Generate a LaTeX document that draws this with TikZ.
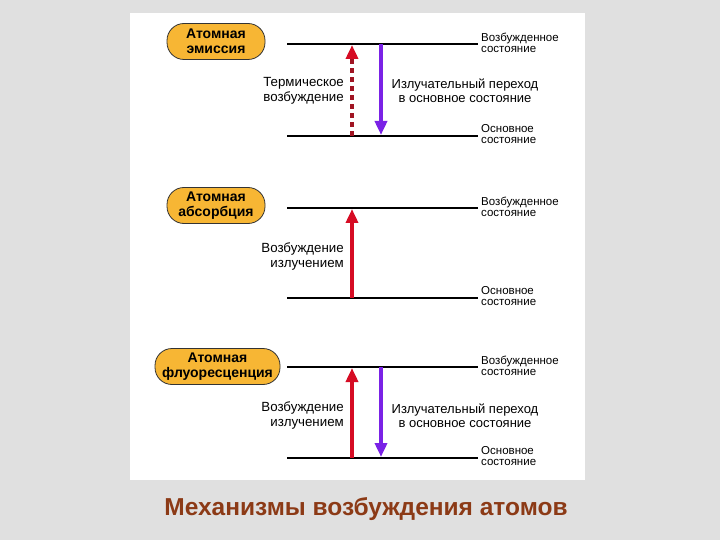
\documentclass[tikz,border=0pt]{standalone}
\usepackage{fontspec}
\setmainfont{Liberation Sans}
\usetikzlibrary{arrows.meta}
\definecolor{bgc}{RGB}{224,224,224}
\definecolor{pillfill}{RGB}{247,182,52}
\definecolor{redarr}{RGB}{214,12,36}
\definecolor{darkred}{RGB}{160,20,34}
\definecolor{purp}{RGB}{122,34,230}
\definecolor{titlec}{RGB}{140,58,22}
\begin{document}
\begin{tikzpicture}[x=1pt,y=-1pt,
  level/.style={line width=2.6pt},
  pill/.style={draw=black!80, line width=0.8pt, fill=pillfill, rounded corners=17pt,
    minimum height=36pt, align=center, inner sep=0pt,
    font=\fontsize{14}{14.5}\selectfont\bfseries},
  leftlab/.style={anchor=east, align=right, inner sep=0pt, font=\fontsize{13.3}{15}\selectfont},
  midlab/.style={anchor=center, align=center, inner sep=0pt, font=\fontsize{13}{14}\selectfont},
  statelab/.style={anchor=west, align=left, inner sep=0pt, font=\fontsize{11.5}{11}\selectfont},
  uparrow/.style={line width=4pt, redarr, -{Triangle[width=12pt,length=14pt]}},
  dasharrow/.style={line width=4pt, darkred, dash pattern=on 5pt off 4pt,
    -{Triangle[width=12pt,length=14pt,color=redarr,fill=redarr]}},
  downarrow/.style={line width=4pt, purp, -{Triangle[width=12pt,length=14pt]}}
]
\useasboundingbox (0,0) rectangle (720,540);
\fill[bgc] (0,0) rectangle (720,540);
\fill[white] (130,13) rectangle (585,480);

% ---------- Panel 1: emission ----------
\node[pill, minimum width=98pt] (p1) at (216,41.5) {Атомная\\эмиссия};
\coordinate (e1l) at (287,44); \coordinate (e1r) at (478,44);
\coordinate (g1l) at (287,136); \coordinate (g1r) at (478,136);
\draw[level] (e1l) -- (e1r);
\draw[level] (g1l) -- (g1r);
\coordinate (e1a) at (352,45); \coordinate (g1a) at (352,136);
\coordinate (e1b) at (381,44); \coordinate (g1b) at (381,135);
\draw[dasharrow] (g1a) -- (e1a);
\draw[downarrow] (e1b) -- (g1b);
\node[leftlab] (t1) at (344,90.5) {Термическое\\возбуждение};
\node[midlab] (m1) at (465,91) {Излучательный переход\\в основное состояние};
\node[statelab] (s1e) at (481,43) {Возбужденное\\состояние};
\node[statelab] (s1g) at (481,134) {Основное\\состояние};

% ---------- Panel 2: absorption ----------
\node[pill, minimum width=98pt] (p2) at (216,205.5) {Атомная\\абсорбция};
\coordinate (e2l) at (287,208); \coordinate (e2r) at (478,208);
\coordinate (g2l) at (287,298); \coordinate (g2r) at (478,298);
\draw[level] (e2l) -- (e2r);
\draw[level] (g2l) -- (g2r);
\coordinate (e2a) at (352,209); \coordinate (g2a) at (352,298);
\draw[uparrow] (g2a) -- (e2a);
\node[leftlab] (t2) at (344,257) {Возбуждение\\излучением};
\node[statelab] (s2e) at (481,207) {Возбужденное\\состояние};
\node[statelab] (s2g) at (481,296) {Основное\\состояние};

% ---------- Panel 3: fluorescence ----------
\node[pill, minimum width=125pt] (p3) at (217.5,366.5) {Атомная\\флуоресценция};
\coordinate (e3l) at (287,367); \coordinate (e3r) at (478,367);
\coordinate (g3l) at (287,458); \coordinate (g3r) at (478,458);
\draw[level] (e3l) -- (e3r);
\draw[level] (g3l) -- (g3r);
\coordinate (e3a) at (352,368); \coordinate (g3a) at (352,458);
\coordinate (e3b) at (381,367); \coordinate (g3b) at (381,457);
\draw[uparrow] (g3a) -- (e3a);
\draw[downarrow] (e3b) -- (g3b);
\node[leftlab] (t3) at (344,415.5) {Возбуждение\\излучением};
\node[midlab] (m3) at (465,415.5) {Излучательный переход\\в основное состояние};
\node[statelab] (s3e) at (481,366) {Возбужденное\\состояние};
\node[statelab] (s3g) at (481,456) {Основное\\состояние};

% ---------- Title ----------
\node[inner sep=0pt, text=titlec, font=\fontsize{24.5}{24.5}\selectfont\bfseries] (title) at (366,509) {Механизмы возбуждения атомов};
\end{tikzpicture}
\end{document}
